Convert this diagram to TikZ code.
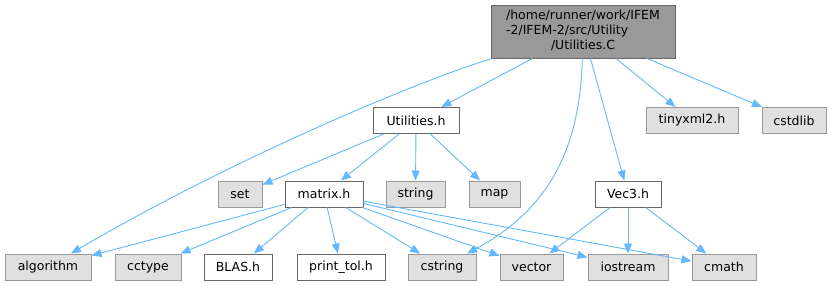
\documentclass[tikz,border=0pt]{standalone}
\usepackage{fontspec}
\setmainfont{DejaVu Sans}
\usetikzlibrary{arrows.meta}

\definecolor{edgeblue}{HTML}{63B8FF}
\definecolor{sysfill}{HTML}{E0E0E0}
\definecolor{sysborder}{HTML}{999999}
\definecolor{fileborder}{HTML}{666666}
\definecolor{rootfill}{HTML}{999999}

\begin{document}
\begin{tikzpicture}[x=1pt, y=-1pt,
    every node/.style={font=\fontsize{12.5}{15}\selectfont, inner sep=0pt, line width=1pt, minimum height=26},
    sysbox/.style={draw=sysborder, fill=sysfill},
    filebox/.style={draw=fileborder, fill=white},
    rootbox/.style={draw=fileborder, fill=rootfill},
    dep/.style={draw=edgeblue, line width=0.9pt, -{Triangle[length=10pt, width=8pt]}}]
    \useasboundingbox (0,0) rectangle (833,285);

    % The file itself
    \node[rootbox, minimum width=184, minimum height=53] (root) at (583,31.5)
        {\begin{tabular}{@{}l@{}}/home/runner/work/IFEM\\-2/IFEM-2/src/Utility\\\multicolumn{1}{@{}c@{}}{/Utilities.C}\end{tabular}};

    % First level
    \node[filebox, minimum width=86] (utilh) at (416,120.5) {Utilities.h};
    \node[sysbox, minimum width=92] (tinyxml) at (692,120.5) {tinyxml2.h};
    \node[sysbox, minimum width=64] (cstdlib) at (794,120.5) {cstdlib};

    % Second level
    \node[sysbox, minimum width=44] (set) at (240,194) {set};
    \node[filebox, minimum width=78] (matrix) at (324,194) {matrix.h};
    \node[sysbox, minimum width=59] (string) at (415.5,194) {string};
    \node[sysbox, minimum width=51] (map) at (494.5,194) {map};
    \node[filebox, minimum width=66] (vec3) at (628,194) {Vec3.h};

    % Third level
    \node[sysbox, minimum width=86] (algorithm) at (48,267) {algorithm};
    \node[sysbox, minimum width=66] (cctype) at (148,267) {cctype};
    \node[filebox, minimum width=68] (blas) at (238,267) {BLAS.h};
    \node[filebox, minimum width=88] (printtol) at (341,267) {print\_tol.h};
    \node[sysbox, minimum width=68] (cstring) at (442,267) {cstring};
    \node[sysbox, minimum width=63] (vector) at (531.5,267) {vector};
    \node[sysbox, minimum width=80] (iostream) at (628,267) {iostream};
    \node[sysbox, minimum width=64] (cmath) at (724,267) {cmath};

    % Includes of the file
    \draw[dep] (root) .. controls (420,80) and (230,160) .. (algorithm);
    \draw[dep] (root) -- (utilh);
    \draw[dep] (root) .. controls (580,150) and (548,210) .. (cstring);
    \draw[dep] (root) -- (vec3);
    \draw[dep] (root) -- (tinyxml);
    \draw[dep] (root) -- (cstdlib);

    % Includes of Utilities.h
    \foreach \to in {set, matrix, string, map}
        \draw[dep] (utilh) -- (\to);

    % Includes of matrix.h
    \foreach \to in {algorithm, cctype, blas, printtol, cstring, vector, iostream, cmath}
        \draw[dep] (matrix) -- (\to);

    % Includes of Vec3.h
    \foreach \to in {vector, iostream, cmath}
        \draw[dep] (vec3) -- (\to);
\end{tikzpicture}
\end{document}
